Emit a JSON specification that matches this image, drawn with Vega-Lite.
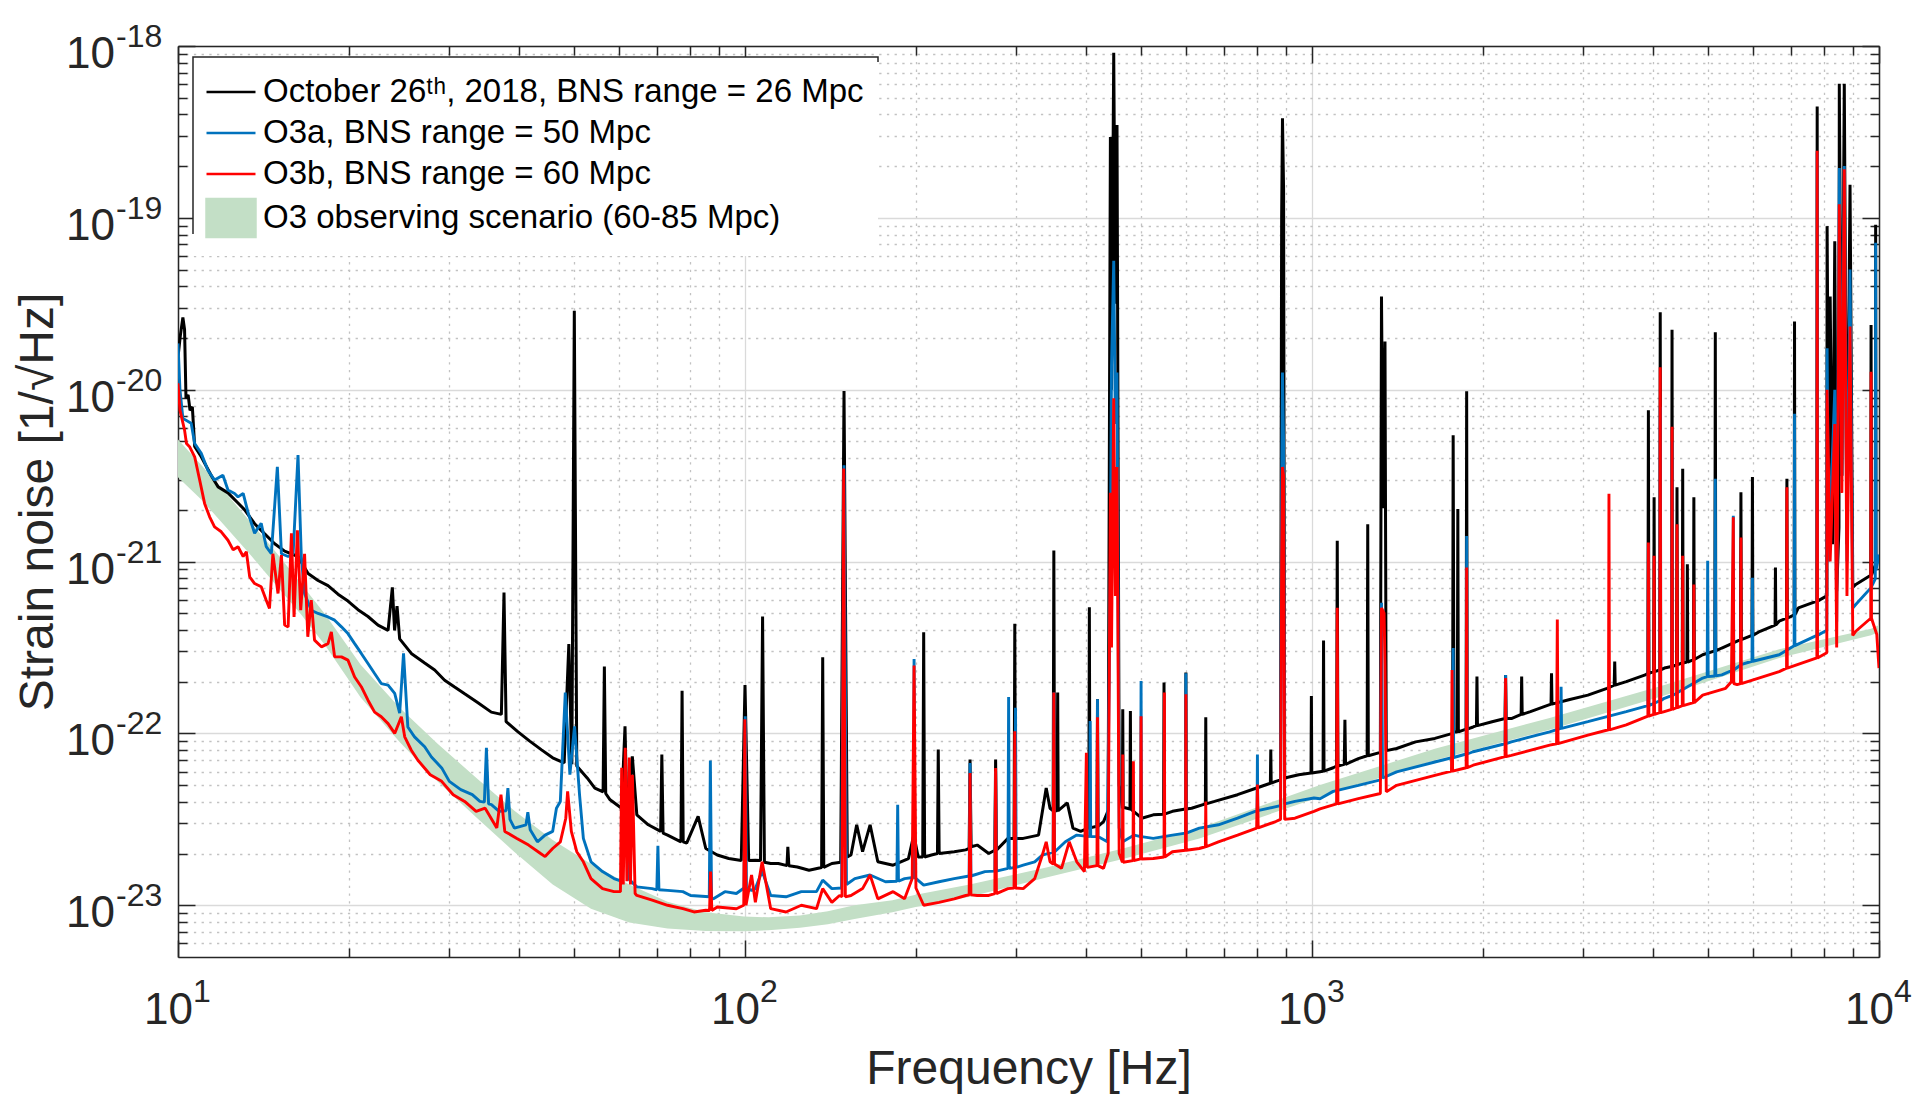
{
  "$schema": "https://vega.github.io/schema/vega-lite/v6.json",
  "description": "Strain noise spectra: October 26th 2018, O3a, O3b and the O3 observing scenario band.",
  "width": 1701,
  "height": 911,
  "autosize": {"type": "none"},
  "padding": {"left": 178, "top": 46, "right": 42, "bottom": 151},
  "background": "white",
  "config": {
    "font": "Liberation Sans",
    "view": {"stroke": null},
    "axis": {
      "labelFont": "Liberation Sans",
      "titleFont": "Liberation Sans",
      "labelColor": "#262626",
      "titleColor": "#262626",
      "domainColor": "#262626",
      "tickColor": "#262626",
      "titleFontWeight": "normal",
      "domainWidth": 1.5,
      "tickWidth": 1.5
    }
  },
  "datasets": {
    "xlab": [
      {"v":10,"e":"1"},{"v":100,"e":"2"},{"v":1000,"e":"3"},{"v":10000,"e":"4"}
    ],
    "ylab": [
      {"v":1e-23,"e":"-23"},{"v":1e-22,"e":"-22"},{"v":1e-21,"e":"-21"},{"v":1e-20,"e":"-20"},{"v":1e-19,"e":"-19"},{"v":1e-18,"e":"-18"}
    ],
    "oct": [
      {"f":10,"h":1.55e-20},{"f":10.1,"h":2.09e-20},{"f":10.2,"h":2.63e-20},{"f":10.27,"h":2.24e-20},{"f":10.33,"h":8.91e-21},{"f":10.42,"h":9.33e-21},{"f":10.5,"h":7.59e-21},{"f":10.6,"h":7.94e-21},{"f":10.7,"h":4.68e-21},{"f":10.99,"h":4.07e-21},{"f":11.45,"h":3.16e-21},{"f":11.77,"h":2.72e-21},{"f":12.25,"h":2.51e-21},{"f":12.76,"h":2.19e-21},{"f":13.11,"h":2.0e-21},{"f":13.65,"h":1.66e-21},{"f":14.22,"h":1.45e-21},{"f":14.81,"h":1.27e-21},{"f":15.42,"h":1.15e-21},{"f":16.28,"h":1.07e-21},{"f":16.96,"h":8.51e-22},{"f":17.66,"h":7.76e-22},{"f":18.39,"h":7.24e-22},{"f":19.15,"h":6.46e-22},{"f":19.94,"h":5.89e-22},{"f":20.77,"h":5.25e-22},{"f":21.63,"h":4.79e-22},{"f":22.53,"h":4.27e-22},{"f":23.47,"h":3.98e-22},{"f":23.88,"h":7.08e-22},{"f":24.1,"h":3.98e-22},{"f":24.34,"h":5.5e-22},{"f":24.6,"h":3.55e-22},{"f":25.79,"h":2.92e-22},{"f":27.23,"h":2.57e-22},{"f":28.36,"h":2.34e-22},{"f":29.53,"h":2.04e-22},{"f":30.75,"h":1.86e-22},{"f":32.03,"h":1.7e-22},{"f":33.81,"h":1.51e-22},{"f":35.69,"h":1.33e-22},{"f":37.18,"h":1.29e-22},{"f":37.58,"h":6.61e-22},{"f":37.9,"h":1.17e-22},{"f":39.78,"h":1.02e-22},{"f":41.72,"h":9.02e-23},{"f":43.71,"h":8.05e-23},{"f":45.79,"h":7.21e-23},{"f":47.98,"h":6.73e-23},{"f":48.9,"h":3.31e-22},{"f":49.5,"h":6.61e-23},{"f":50,"h":2.88e-20},{"f":50.5,"h":6.46e-23},{"f":52.68,"h":5.51e-23},{"f":54.35,"h":4.81e-23},{"f":56.2,"h":4.57e-23},{"f":56.49,"h":2.45e-22},{"f":56.8,"h":4.47e-23},{"f":57.82,"h":4.11e-23},{"f":60.58,"h":3.67e-23},{"f":61.43,"h":1.1e-22},{"f":61.9,"h":3.55e-23},{"f":63.28,"h":7.36e-23},{"f":64.45,"h":3.36e-23},{"f":67.52,"h":2.94e-23},{"f":71,"h":2.69e-23},{"f":71.34,"h":7.53e-23},{"f":71.7,"h":2.63e-23},{"f":73.03,"h":2.56e-23},{"f":77.1,"h":2.34e-23},{"f":77.45,"h":1.77e-22},{"f":77.8,"h":2.34e-23},{"f":78.91,"h":2.3e-23},{"f":82.67,"h":3.29e-23},{"f":85.28,"h":2.14e-23},{"f":89.35,"h":1.96e-23},{"f":93.62,"h":1.87e-23},{"f":98.5,"h":1.82e-23},{"f":100,"h":1.91e-22},{"f":101.5,"h":1.82e-23},{"f":104.3,"h":1.83e-23},{"f":106.5,"h":1.82e-23},{"f":107.4,"h":4.79e-22},{"f":108.2,"h":1.78e-23},{"f":111,"h":1.75e-23},{"f":114.5,"h":1.75e-23},{"f":118.6,"h":1.7e-23},{"f":119,"h":2.19e-23},{"f":119.5,"h":1.7e-23},{"f":123.7,"h":1.67e-23},{"f":129.7,"h":1.6e-23},{"f":136.5,"h":1.66e-23},{"f":137.1,"h":2.77e-22},{"f":137.7,"h":1.66e-23},{"f":142.3,"h":1.75e-23},{"f":147.5,"h":1.78e-23},{"f":149.5,"h":9.82e-21},{"f":151.5,"h":1.91e-23},{"f":153.8,"h":1.96e-23},{"f":157.4,"h":2.94e-23},{"f":161.2,"h":2.05e-23},{"f":166.2,"h":2.94e-23},{"f":171.5,"h":1.79e-23},{"f":182.5,"h":1.71e-23},{"f":194.2,"h":1.87e-23},{"f":198.5,"h":2.57e-23},{"f":202,"h":1.91e-23},{"f":205.8,"h":1.91e-23},{"f":206.6,"h":3.88e-22},{"f":207.4,"h":1.91e-23},{"f":213.2,"h":1.96e-23},{"f":218.5,"h":2.0e-23},{"f":219.2,"h":8.05e-23},{"f":220,"h":2.0e-23},{"f":233.9,"h":2.05e-23},{"f":245.1,"h":2.1e-23},{"f":248.5,"h":2.14e-23},{"f":249.4,"h":7.05e-23},{"f":250.5,"h":2.19e-23},{"f":256.8,"h":2.24e-23},{"f":269.1,"h":2.0e-23},{"f":275.8,"h":2.09e-23},{"f":276.7,"h":7.05e-23},{"f":277.6,"h":2.09e-23},{"f":290.9,"h":2.45e-23},{"f":298.2,"h":2.45e-23},{"f":299.1,"h":4.34e-22},{"f":300,"h":2.45e-23},{"f":309.5,"h":2.45e-23},{"f":329.4,"h":2.56e-23},{"f":339.8,"h":4.81e-23},{"f":345.1,"h":3.67e-23},{"f":349.5,"h":3.55e-23},{"f":350.5,"h":1.16e-21},{"f":351.5,"h":3.55e-23},{"f":355.2,"h":3.55e-23},{"f":356,"h":1.73e-22},{"f":356.8,"h":3.55e-23},{"f":370.2,"h":3.94e-23},{"f":378.8,"h":2.81e-23},{"f":390.8,"h":2.69e-23},{"f":404,"h":2.82e-23},{"f":404.9,"h":5.43e-22},{"f":405.8,"h":2.82e-23},{"f":417.6,"h":2.88e-23},{"f":418.5,"h":1.58e-22},{"f":419.4,"h":2.88e-23},{"f":428.9,"h":3.07e-23},{"f":437,"h":3.55e-23},{"f":441,"h":2.95e-19},{"f":443,"h":1e-20},{"f":447,"h":9.12e-19},{"f":450,"h":3.16e-20},{"f":453,"h":3.47e-19},{"f":457,"h":5.01e-23},{"f":463,"h":3.67e-23},{"f":463.7,"h":1.38e-22},{"f":464.5,"h":3.72e-23},{"f":477.5,"h":3.63e-23},{"f":478.3,"h":1.35e-22},{"f":479.1,"h":3.63e-23},{"f":501,"h":3.21e-23},{"f":524.9,"h":3.36e-23},{"f":547.4,"h":3.39e-23},{"f":548.3,"h":1.98e-22},{"f":549.2,"h":3.39e-23},{"f":567.4,"h":3.52e-23},{"f":598.2,"h":3.63e-23},{"f":599.2,"h":2.26e-22},{"f":600.2,"h":3.63e-23},{"f":613.3,"h":3.67e-23},{"f":648.6,"h":3.89e-23},{"f":649.6,"h":1.24e-22},{"f":650.6,"h":3.89e-23},{"f":673.2,"h":4.02e-23},{"f":739.1,"h":4.4e-23},{"f":798.7,"h":4.81e-23},{"f":844.5,"h":5.13e-23},{"f":845.9,"h":8.05e-23},{"f":847.3,"h":5.13e-23},{"f":863.2,"h":5.26e-23},{"f":880,"h":5.37e-23},{"f":884,"h":1e-19},{"f":887,"h":3.8e-19},{"f":891,"h":1.48e-19},{"f":895,"h":5.5e-23},{"f":947.6,"h":5.75e-23},{"f":996,"h":5.89e-23},{"f":997.5,"h":1.65e-22},{"f":999,"h":5.89e-23},{"f":1046,"h":6.03e-23},{"f":1048,"h":3.47e-22},{"f":1050,"h":6.03e-23},{"f":1090,"h":6.31e-23},{"f":1105,"h":6.46e-23},{"f":1108,"h":1.32e-21},{"f":1111,"h":6.46e-23},{"f":1140,"h":6.61e-23},{"f":1143,"h":1.2e-22},{"f":1146,"h":6.61e-23},{"f":1207,"h":7.14e-23},{"f":1251,"h":7.41e-23},{"f":1254,"h":1.65e-21},{"f":1257,"h":7.41e-23},{"f":1320,"h":7.76e-23},{"f":1326,"h":3.49e-20},{"f":1335,"h":2.04e-21},{"f":1345,"h":1.91e-20},{"f":1352,"h":7.94e-23},{"f":1410,"h":8.17e-23},{"f":1523,"h":8.93e-23},{"f":1647,"h":9.35e-23},{"f":1770,"h":1e-22},{"f":1774,"h":5.43e-21},{"f":1780,"h":1.02e-22},{"f":1804,"h":1.02e-22},{"f":1808,"h":2.02e-21},{"f":1812,"h":1.02e-22},{"f":1870,"h":1.06e-22},{"f":1874,"h":9.79e-21},{"f":1878,"h":1.06e-22},{"f":1924,"h":1.09e-22},{"f":1950,"h":1.11e-22},{"f":1954,"h":2.14e-22},{"f":1958,"h":1.11e-22},{"f":2078,"h":1.17e-22},{"f":2190,"h":1.22e-22},{"f":2195,"h":2.19e-22},{"f":2200,"h":1.22e-22},{"f":2247,"h":1.22e-22},{"f":2338,"h":1.29e-22},{"f":2343,"h":2.14e-22},{"f":2348,"h":1.29e-22},{"f":2428,"h":1.34e-22},{"f":2625,"h":1.47e-22},{"f":2640,"h":1.48e-22},{"f":2645,"h":2.24e-22},{"f":2650,"h":1.48e-22},{"f":2837,"h":1.57e-22},{"f":3066,"h":1.67e-22},{"f":3314,"h":1.83e-22},{"f":3412,"h":1.91e-22},{"f":3419,"h":2.62e-22},{"f":3426,"h":1.91e-22},{"f":3583,"h":2.0e-22},{"f":3871,"h":2.19e-22},{"f":3912,"h":2.24e-22},{"f":3920,"h":7.59e-21},{"f":3928,"h":2.24e-22},{"f":4005,"h":2.29e-22},{"f":4012,"h":2.37e-21},{"f":4019,"h":2.29e-22},{"f":4105,"h":2.34e-22},{"f":4113,"h":2.82e-20},{"f":4121,"h":2.34e-22},{"f":4183,"h":2.4e-22},{"f":4307,"h":2.45e-22},{"f":4315,"h":2.23e-20},{"f":4323,"h":2.45e-22},{"f":4395,"h":2.51e-22},{"f":4403,"h":2.71e-21},{"f":4411,"h":2.51e-22},{"f":4498,"h":2.57e-22},{"f":4506,"h":3.47e-21},{"f":4514,"h":2.57e-22},{"f":4584,"h":2.6e-22},{"f":4592,"h":9.64e-22},{"f":4600,"h":2.6e-22},{"f":4707,"h":2.69e-22},{"f":4715,"h":2.37e-21},{"f":4723,"h":2.69e-22},{"f":4887,"h":2.87e-22},{"f":5134,"h":3.02e-22},{"f":5144,"h":2.16e-20},{"f":5154,"h":3.02e-22},{"f":5282,"h":3.14e-22},{"f":5698,"h":3.51e-22},{"f":5708,"h":2.53e-21},{"f":5718,"h":3.51e-22},{"f":5970,"h":3.72e-22},{"f":5981,"h":3.1e-21},{"f":5992,"h":3.72e-22},{"f":6170,"h":3.93e-22},{"f":6557,"h":4.27e-22},{"f":6567,"h":9.23e-22},{"f":6577,"h":4.27e-22},{"f":6668,"h":4.5e-22},{"f":6870,"h":4.68e-22},{"f":6880,"h":3.03e-21},{"f":6890,"h":4.68e-22},{"f":7085,"h":4.9e-22},{"f":7096,"h":2.49e-20},{"f":7107,"h":4.9e-22},{"f":7208,"h":5.38e-22},{"f":7770,"h":5.89e-22},{"f":7780,"h":4.45e-19},{"f":7790,"h":5.89e-22},{"f":8090,"h":6.31e-22},{"f":8100,"h":8.95e-20},{"f":8150,"h":3.16e-21},{"f":8201,"h":3.49e-20},{"f":8280,"h":1.26e-21},{"f":8356,"h":7.31e-20},{"f":8421,"h":6.73e-22},{"f":8500,"h":1.58e-21},{"f":8511,"h":6.03e-19},{"f":8600,"h":3.16e-21},{"f":8685,"h":6.03e-19},{"f":8780,"h":1.26e-21},{"f":8890,"h":1.56e-19},{"f":8990,"h":7.08e-22},{"f":9100,"h":7.36e-22},{"f":9670,"h":8.32e-22},{"f":9683,"h":2.38e-20},{"f":9700,"h":8.32e-22},{"f":9850,"h":9.55e-22},{"f":9865,"h":9.12e-20},{"f":9880,"h":1e-21},{"f":9950,"h":1.02e-21},{"f":10000,"h":1.05e-21}
    ],
    "o3a": [
      {"f":10,"h":1.86e-20},{"f":10.08,"h":1e-20},{"f":10.2,"h":6.81e-21},{"f":10.55,"h":6.37e-21},{"f":10.7,"h":4.86e-21},{"f":10.99,"h":4.26e-21},{"f":11.29,"h":3.4e-21},{"f":11.6,"h":2.98e-21},{"f":12,"h":3.18e-21},{"f":12.25,"h":2.61e-21},{"f":12.58,"h":2.49e-21},{"f":12.76,"h":2.38e-21},{"f":13.03,"h":2.49e-21},{"f":13.3,"h":1.91e-21},{"f":13.65,"h":1.46e-21},{"f":14.02,"h":1.67e-21},{"f":14.31,"h":1.22e-21},{"f":14.61,"h":1.11e-21},{"f":14.97,"h":3.56e-21},{"f":15.22,"h":1.11e-21},{"f":15.64,"h":1.07e-21},{"f":15.96,"h":1.11e-21},{"f":16.28,"h":4.16e-21},{"f":16.5,"h":1.07e-21},{"f":16.72,"h":6.52e-22},{"f":17.18,"h":5.21e-22},{"f":17.66,"h":4.99e-22},{"f":18.39,"h":4.76e-22},{"f":18.89,"h":4.56e-22},{"f":19.42,"h":4.17e-22},{"f":19.94,"h":3.81e-22},{"f":20.49,"h":3.33e-22},{"f":21.05,"h":2.92e-22},{"f":21.63,"h":2.55e-22},{"f":22.22,"h":2.23e-22},{"f":22.83,"h":1.95e-22},{"f":23.47,"h":1.91e-22},{"f":24.11,"h":1.71e-22},{"f":24.6,"h":1.31e-22},{"f":24.99,"h":2.92e-22},{"f":25.43,"h":1.09e-22},{"f":26.13,"h":9.55e-23},{"f":27.23,"h":8.36e-23},{"f":27.99,"h":7.29e-23},{"f":29.18,"h":6.3e-23},{"f":30.1,"h":5.26e-23},{"f":31.53,"h":4.71e-23},{"f":33.04,"h":4.4e-23},{"f":34.08,"h":4.02e-23},{"f":34.7,"h":3.98e-23},{"f":34.99,"h":8.24e-23},{"f":35.3,"h":3.89e-23},{"f":35.71,"h":3.85e-23},{"f":36.84,"h":3.52e-23},{"f":37.9,"h":3.55e-23},{"f":38.18,"h":4.81e-23},{"f":38.5,"h":3.16e-23},{"f":39.2,"h":2.81e-23},{"f":41.09,"h":2.94e-23},{"f":41.4,"h":3.48e-23},{"f":41.8,"h":2.75e-23},{"f":43.04,"h":2.34e-23},{"f":44.4,"h":2.56e-23},{"f":45.79,"h":2.69e-23},{"f":46.5,"h":3.67e-23},{"f":47.24,"h":4.02e-23},{"f":48.2,"h":1.73e-22},{"f":49.11,"h":5.75e-23},{"f":50.04,"h":1.1e-22},{"f":51.07,"h":4.4e-23},{"f":51.87,"h":2.45e-23},{"f":53.5,"h":1.79e-23},{"f":56.07,"h":1.57e-23},{"f":58.74,"h":1.43e-23},{"f":60.5,"h":1.38e-23},{"f":61.5,"h":3.98e-23},{"f":62.5,"h":1.41e-23},{"f":64.45,"h":1.28e-23},{"f":68.6,"h":1.25e-23},{"f":69.9,"h":1.23e-23},{"f":70.21,"h":2.22e-23},{"f":70.5,"h":1.23e-23},{"f":73.03,"h":1.22e-23},{"f":77.7,"h":1.2e-23},{"f":80.15,"h":1.14e-23},{"f":86.5,"h":1.12e-23},{"f":86.88,"h":6.95e-23},{"f":87.3,"h":1.1e-23},{"f":87.97,"h":1.09e-23},{"f":92.17,"h":1.2e-23},{"f":96.56,"h":1.17e-23},{"f":99.6,"h":1.26e-23},{"f":100.1,"h":1.26e-22},{"f":100.6,"h":1.26e-23},{"f":102.7,"h":1.22e-23},{"f":104.3,"h":1.25e-23},{"f":107.2,"h":1.58e-23},{"f":111,"h":1.14e-23},{"f":118.1,"h":1.12e-23},{"f":125.7,"h":1.2e-23},{"f":133.7,"h":1.2e-23},{"f":137.1,"h":1.4e-23},{"f":142.3,"h":1.25e-23},{"f":148,"h":1.26e-23},{"f":149.5,"h":3.63e-21},{"f":151,"h":1.32e-23},{"f":156.2,"h":1.43e-23},{"f":166.2,"h":1.5e-23},{"f":176.9,"h":1.37e-23},{"f":185.3,"h":1.38e-23},{"f":185.9,"h":3.85e-23},{"f":186.5,"h":1.38e-23},{"f":191.2,"h":1.43e-23},{"f":198,"h":1.45e-23},{"f":198.7,"h":2.71e-22},{"f":199.4,"h":1.45e-23},{"f":206.6,"h":1.31e-23},{"f":219.9,"h":1.37e-23},{"f":233.9,"h":1.43e-23},{"f":248.5,"h":1.48e-23},{"f":249.4,"h":6.73e-23},{"f":250.3,"h":1.48e-23},{"f":265,"h":1.57e-23},{"f":275.8,"h":1.58e-23},{"f":276.7,"h":6.03e-23},{"f":277.6,"h":1.58e-23},{"f":290.9,"h":1.64e-23},{"f":291.7,"h":1.63e-22},{"f":292.5,"h":1.64e-23},{"f":299.2,"h":1.66e-23},{"f":300,"h":1.41e-22},{"f":300.8,"h":1.66e-23},{"f":309.5,"h":1.71e-23},{"f":324.3,"h":1.79e-23},{"f":334.5,"h":1.96e-23},{"f":349.5,"h":2.04e-23},{"f":350.5,"h":1.73e-22},{"f":351.5,"h":2.04e-23},{"f":367.3,"h":2.34e-23},{"f":384.7,"h":2.56e-23},{"f":405.3,"h":2.51e-23},{"f":406.2,"h":1.18e-22},{"f":407.1,"h":2.51e-23},{"f":417.6,"h":2.51e-23},{"f":418.5,"h":1.58e-22},{"f":419.4,"h":2.51e-23},{"f":435.6,"h":2.34e-23},{"f":441,"h":1e-21},{"f":443,"h":1.35e-20},{"f":447,"h":5.62e-20},{"f":450,"h":6.31e-21},{"f":453,"h":1.26e-20},{"f":457,"h":2.82e-23},{"f":463.7,"h":2.34e-23},{"f":485.8,"h":2.56e-23},{"f":498.6,"h":2.51e-23},{"f":499.5,"h":2.02e-22},{"f":500.4,"h":2.51e-23},{"f":524.9,"h":2.45e-23},{"f":567.4,"h":2.56e-23},{"f":598.2,"h":2.63e-23},{"f":599.2,"h":2.24e-22},{"f":600.2,"h":2.63e-23},{"f":632.7,"h":2.81e-23},{"f":683.8,"h":2.94e-23},{"f":739.1,"h":3.21e-23},{"f":800.1,"h":3.55e-23},{"f":801.2,"h":7.53e-23},{"f":802.3,"h":3.55e-23},{"f":880,"h":3.8e-23},{"f":884,"h":2.51e-21},{"f":887,"h":1.26e-20},{"f":891,"h":5.01e-21},{"f":895,"h":3.89e-23},{"f":933.1,"h":4.02e-23},{"f":1008,"h":4.21e-23},{"f":1033,"h":4.17e-23},{"f":1090,"h":4.6e-23},{"f":1207,"h":4.99e-23},{"f":1320,"h":5.37e-23},{"f":1326,"h":5.75e-22},{"f":1332,"h":5.5e-23},{"f":1410,"h":5.97e-23},{"f":1647,"h":6.82e-23},{"f":1770,"h":7.24e-23},{"f":1774,"h":3.14e-22},{"f":1778,"h":7.24e-23},{"f":1870,"h":7.59e-23},{"f":1874,"h":1.41e-21},{"f":1878,"h":7.59e-23},{"f":1924,"h":7.82e-23},{"f":2190,"h":8.71e-23},{"f":2195,"h":2.19e-22},{"f":2200,"h":8.71e-23},{"f":2247,"h":8.93e-23},{"f":2625,"h":1.02e-22},{"f":2745,"h":1.07e-22},{"f":2750,"h":1.87e-22},{"f":2755,"h":1.07e-22},{"f":3066,"h":1.17e-22},{"f":3583,"h":1.34e-22},{"f":3912,"h":1.45e-22},{"f":3920,"h":1.26e-21},{"f":3928,"h":1.45e-22},{"f":4105,"h":1.55e-22},{"f":4113,"h":7.94e-21},{"f":4121,"h":1.55e-22},{"f":4183,"h":1.6e-22},{"f":4307,"h":1.66e-22},{"f":4315,"h":5.01e-21},{"f":4323,"h":1.66e-22},{"f":4887,"h":2.1e-22},{"f":4977,"h":2.14e-22},{"f":4987,"h":1.01e-21},{"f":4997,"h":2.14e-22},{"f":5134,"h":2.16e-22},{"f":5144,"h":3.03e-21},{"f":5154,"h":2.16e-22},{"f":5282,"h":2.19e-22},{"f":5524,"h":2.34e-22},{"f":5534,"h":1.85e-21},{"f":5544,"h":2.34e-22},{"f":5708,"h":2.51e-22},{"f":5970,"h":2.63e-22},{"f":5981,"h":8.05e-22},{"f":5992,"h":2.63e-22},{"f":6668,"h":2.87e-22},{"f":7085,"h":3.24e-22},{"f":7096,"h":7.24e-21},{"f":7107,"h":3.24e-22},{"f":7770,"h":3.72e-22},{"f":7780,"h":2.4e-19},{"f":7790,"h":3.72e-22},{"f":8090,"h":3.98e-22},{"f":8100,"h":1.74e-20},{"f":8150,"h":1e-21},{"f":8356,"h":1e-20},{"f":8421,"h":4.47e-22},{"f":8511,"h":1.95e-19},{"f":8600,"h":3.16e-21},{"f":8685,"h":2e-19},{"f":8780,"h":1e-21},{"f":8890,"h":5.01e-20},{"f":8990,"h":5.37e-22},{"f":9100,"h":5.62e-22},{"f":9683,"h":7.05e-22},{"f":9850,"h":7.94e-22},{"f":9865,"h":7.16e-20},{"f":9880,"h":8.91e-22},{"f":10000,"h":1.1e-21}
    ],
    "o3b": [
      {"f":10,"h":1.09e-20},{"f":10.08,"h":7.6e-21},{"f":10.27,"h":5.82e-21},{"f":10.35,"h":4.86e-21},{"f":10.48,"h":4.66e-21},{"f":10.7,"h":4.07e-21},{"f":10.92,"h":2.98e-21},{"f":11.14,"h":2.18e-21},{"f":11.37,"h":1.82e-21},{"f":11.6,"h":1.59e-21},{"f":11.92,"h":1.49e-21},{"f":12.25,"h":1.33e-21},{"f":12.51,"h":1.17e-21},{"f":12.76,"h":1.22e-21},{"f":13.03,"h":1.07e-21},{"f":13.2,"h":1.14e-21},{"f":13.38,"h":8.15e-22},{"f":13.65,"h":7.45e-22},{"f":14.02,"h":7.13e-22},{"f":14.31,"h":5.96e-22},{"f":14.5,"h":5.33e-22},{"f":14.7,"h":1.11e-21},{"f":15.01,"h":6.52e-22},{"f":15.22,"h":1.09e-21},{"f":15.42,"h":4.27e-22},{"f":15.64,"h":4.17e-22},{"f":15.85,"h":1.46e-21},{"f":16.02,"h":4.76e-22},{"f":16.24,"h":1.52e-21},{"f":16.46,"h":5.21e-22},{"f":16.72,"h":1.11e-21},{"f":16.94,"h":3.65e-22},{"f":17.18,"h":5.96e-22},{"f":17.41,"h":3.49e-22},{"f":17.9,"h":3.19e-22},{"f":18.39,"h":3.33e-22},{"f":18.64,"h":3.9e-22},{"f":18.89,"h":2.79e-22},{"f":19.42,"h":2.79e-22},{"f":19.94,"h":2.67e-22},{"f":20.49,"h":2.13e-22},{"f":21.05,"h":1.87e-22},{"f":21.63,"h":1.56e-22},{"f":22.22,"h":1.33e-22},{"f":22.83,"h":1.25e-22},{"f":23.47,"h":1.14e-22},{"f":24.11,"h":1e-22},{"f":24.77,"h":1.25e-22},{"f":25.11,"h":9.55e-23},{"f":25.79,"h":7.98e-23},{"f":26.49,"h":6.98e-23},{"f":27.85,"h":5.75e-23},{"f":29.18,"h":5.26e-23},{"f":30.57,"h":4.4e-23},{"f":32.03,"h":4.02e-23},{"f":33.56,"h":3.52e-23},{"f":34.81,"h":3.67e-23},{"f":36.5,"h":2.82e-23},{"f":37.12,"h":4.4e-23},{"f":37.7,"h":2.69e-23},{"f":39.6,"h":2.45e-23},{"f":41.53,"h":2.24e-23},{"f":43.6,"h":2e-23},{"f":44.4,"h":1.92e-23},{"f":45.79,"h":2.14e-23},{"f":47.24,"h":2.34e-23},{"f":48.3,"h":3.21e-23},{"f":48.66,"h":4.6e-23},{"f":49.4,"h":2.69e-23},{"f":50.5,"h":2.05e-23},{"f":51.87,"h":1.79e-23},{"f":53.5,"h":1.43e-23},{"f":56.07,"h":1.25e-23},{"f":58.74,"h":1.2e-23},{"f":60.3,"h":1.2e-23},{"f":60.6,"h":6.31e-23},{"f":61,"h":1.32e-23},{"f":61.5,"h":8.24e-23},{"f":61.9,"h":1.38e-23},{"f":62.5,"h":7.24e-23},{"f":62.8,"h":1.32e-23},{"f":63.3,"h":5.75e-23},{"f":64,"h":1.17e-23},{"f":64.45,"h":1.14e-23},{"f":68.6,"h":1.07e-23},{"f":73.03,"h":1e-23},{"f":77.7,"h":9.55e-24},{"f":81.3,"h":9.14e-24},{"f":85.28,"h":9.35e-24},{"f":86.6,"h":9.33e-24},{"f":86.96,"h":1.57e-23},{"f":87.4,"h":9.33e-24},{"f":89.35,"h":9.77e-24},{"f":96.56,"h":9.55e-24},{"f":99.5,"h":1e-23},{"f":99.94,"h":1.21e-22},{"f":100.4,"h":1e-23},{"f":102.7,"h":1.5e-23},{"f":104.3,"h":1.04e-23},{"f":107.2,"h":1.79e-23},{"f":111,"h":9.55e-24},{"f":118.1,"h":9.14e-24},{"f":125.7,"h":1e-23},{"f":133.7,"h":9.55e-24},{"f":137.1,"h":1.25e-23},{"f":142.3,"h":1.04e-23},{"f":146.8,"h":1.14e-23},{"f":148.3,"h":1.12e-23},{"f":149.3,"h":3.48e-21},{"f":150.3,"h":1.12e-23},{"f":153.8,"h":1.14e-23},{"f":161.2,"h":1.25e-23},{"f":166.2,"h":1.5e-23},{"f":171.5,"h":1.09e-23},{"f":182.5,"h":1.2e-23},{"f":191.2,"h":1.09e-23},{"f":197.2,"h":1.43e-23},{"f":198.7,"h":2.48e-22},{"f":200.2,"h":1.26e-23},{"f":206.6,"h":1e-23},{"f":219.9,"h":1.04e-23},{"f":233.9,"h":1.09e-23},{"f":245.1,"h":1.14e-23},{"f":248.5,"h":1.15e-23},{"f":249.4,"h":5.89e-23},{"f":250.3,"h":1.15e-23},{"f":256.8,"h":1.14e-23},{"f":269.1,"h":1.14e-23},{"f":275.8,"h":1.17e-23},{"f":276.7,"h":6.3e-23},{"f":277.6,"h":1.17e-23},{"f":290.9,"h":1.25e-23},{"f":298.2,"h":1.26e-23},{"f":299.1,"h":1.03e-22},{"f":300,"h":1.26e-23},{"f":309.5,"h":1.25e-23},{"f":324.3,"h":1.43e-23},{"f":334.5,"h":1.96e-23},{"f":339.8,"h":2.34e-23},{"f":345.1,"h":1.79e-23},{"f":349.5,"h":1.74e-23},{"f":350.5,"h":1.73e-22},{"f":351.5,"h":1.74e-23},{"f":361.6,"h":1.64e-23},{"f":373.1,"h":2.34e-23},{"f":384.7,"h":1.79e-23},{"f":396.8,"h":1.57e-23},{"f":400,"h":7.71e-23},{"f":401.5,"h":1.66e-23},{"f":417.6,"h":1.7e-23},{"f":418.5,"h":1.24e-22},{"f":419.4,"h":1.7e-23},{"f":428.9,"h":1.64e-23},{"f":437,"h":2e-23},{"f":441,"h":2.51e-21},{"f":443,"h":3.16e-22},{"f":447,"h":8.91e-21},{"f":450,"h":6.31e-22},{"f":453,"h":3.55e-21},{"f":457,"h":2e-23},{"f":463,"h":1.78e-23},{"f":463.7,"h":7.53e-23},{"f":464.5,"h":1.78e-23},{"f":483.4,"h":1.82e-23},{"f":484.2,"h":6.89e-23},{"f":485,"h":1.82e-23},{"f":498.6,"h":1.86e-23},{"f":499.5,"h":1.26e-22},{"f":500.4,"h":1.86e-23},{"f":524.9,"h":1.87e-23},{"f":548.3,"h":1.91e-23},{"f":549.1,"h":1.73e-22},{"f":549.9,"h":1.91e-23},{"f":567.4,"h":2.05e-23},{"f":598.2,"h":2.09e-23},{"f":599.2,"h":1.69e-22},{"f":600.2,"h":2.09e-23},{"f":632.7,"h":2.14e-23},{"f":648.6,"h":2.19e-23},{"f":649.6,"h":4.02e-23},{"f":650.6,"h":2.19e-23},{"f":683.8,"h":2.34e-23},{"f":739.1,"h":2.56e-23},{"f":798.7,"h":2.81e-23},{"f":801.2,"h":5.04e-23},{"f":803.7,"h":2.82e-23},{"f":863.2,"h":3.07e-23},{"f":880,"h":3.16e-23},{"f":884,"h":1e-21},{"f":887,"h":3.55e-21},{"f":891,"h":3.16e-21},{"f":895,"h":3.16e-23},{"f":933.1,"h":3.21e-23},{"f":1008,"h":3.52e-23},{"f":1033,"h":3.64e-23},{"f":1105,"h":3.89e-23},{"f":1108,"h":5.38e-22},{"f":1111,"h":3.89e-23},{"f":1207,"h":4.17e-23},{"f":1320,"h":4.47e-23},{"f":1326,"h":5.37e-22},{"f":1340,"h":5.01e-22},{"f":1345,"h":2.51e-22},{"f":1352,"h":4.57e-23},{"f":1410,"h":4.99e-23},{"f":1647,"h":5.7e-23},{"f":1762,"h":6.03e-23},{"f":1766,"h":2.34e-22},{"f":1770,"h":6.03e-23},{"f":1870,"h":6.31e-23},{"f":1874,"h":9.23e-22},{"f":1878,"h":6.31e-23},{"f":1924,"h":6.53e-23},{"f":2190,"h":7.33e-23},{"f":2195,"h":2.1e-22},{"f":2200,"h":7.33e-23},{"f":2247,"h":7.46e-23},{"f":2625,"h":8.55e-23},{"f":2700,"h":8.71e-23},{"f":2708,"h":4.6e-22},{"f":2716,"h":8.71e-23},{"f":3066,"h":9.77e-23},{"f":3333,"h":1.05e-22},{"f":3340,"h":2.48e-21},{"f":3347,"h":1.05e-22},{"f":3583,"h":1.12e-22},{"f":3912,"h":1.26e-22},{"f":3920,"h":1.29e-21},{"f":3928,"h":1.26e-22},{"f":4005,"h":1.29e-22},{"f":4012,"h":1.08e-21},{"f":4019,"h":1.29e-22},{"f":4105,"h":1.32e-22},{"f":4113,"h":1.35e-20},{"f":4121,"h":1.32e-22},{"f":4183,"h":1.34e-22},{"f":4307,"h":1.38e-22},{"f":4315,"h":6.08e-21},{"f":4323,"h":1.38e-22},{"f":4395,"h":1.41e-22},{"f":4403,"h":1.65e-21},{"f":4411,"h":1.41e-22},{"f":4498,"h":1.45e-22},{"f":4506,"h":1.08e-21},{"f":4514,"h":1.45e-22},{"f":4707,"h":1.51e-22},{"f":4715,"h":7.36e-22},{"f":4723,"h":1.51e-22},{"f":4887,"h":1.67e-22},{"f":5364,"h":1.83e-22},{"f":5491,"h":2e-22},{"f":5534,"h":1.81e-21},{"f":5544,"h":1.95e-22},{"f":5620,"h":1.92e-22},{"f":5698,"h":1.95e-22},{"f":5708,"h":1.38e-21},{"f":5718,"h":1.95e-22},{"f":6668,"h":2.29e-22},{"f":6870,"h":2.4e-22},{"f":6880,"h":2.71e-21},{"f":6890,"h":2.4e-22},{"f":7770,"h":2.75e-22},{"f":7780,"h":2.46e-19},{"f":7790,"h":2.75e-22},{"f":8090,"h":2.95e-22},{"f":8100,"h":1e-20},{"f":8200,"h":1e-21},{"f":8356,"h":6.31e-21},{"f":8421,"h":3.16e-22},{"f":8511,"h":1.2e-19},{"f":8600,"h":2.51e-21},{"f":8685,"h":1.92e-19},{"f":8780,"h":6.31e-22},{"f":8890,"h":2.33e-20},{"f":8990,"h":3.72e-22},{"f":9100,"h":3.93e-22},{"f":9670,"h":4.68e-22},{"f":9683,"h":1.27e-20},{"f":9700,"h":4.68e-22},{"f":9911,"h":3.76e-22},{"f":10000,"h":2.4e-22}
    ],
    "band": [
      {"f":10,"hi":5.13e-21,"lo":3.09e-21},{"f":11,"hi":3.63e-21,"lo":2.29e-21},{"f":12,"hi":2.63e-21,"lo":1.66e-21},{"f":13.5,"hi":1.66e-21,"lo":1.07e-21},{"f":15,"hi":1.1e-21,"lo":7.08e-22},{"f":16.5,"hi":7.41e-22,"lo":4.9e-22},{"f":18.2,"hi":4.9e-22,"lo":3.24e-22},{"f":21,"hi":2.51e-22,"lo":1.62e-22},{"f":24.6,"hi":1.41e-22,"lo":8.91e-23},{"f":28.7,"hi":8.71e-23,"lo":5.25e-23},{"f":33.6,"hi":5.5e-23,"lo":3.24e-23},{"f":39.2,"hi":3.55e-23,"lo":2.04e-23},{"f":45.8,"hi":2.4e-23,"lo":1.32e-23},{"f":53.5,"hi":1.74e-23,"lo":9.55e-24},{"f":62.5,"hi":1.32e-23,"lo":7.94e-24},{"f":73,"hi":1.05e-23,"lo":7.33e-24},{"f":85.3,"hi":9.12e-24,"lo":7.08e-24},{"f":99.6,"hi":8.61e-24,"lo":7.05e-24},{"f":110,"hi":8.51e-24,"lo":7.16e-24},{"f":125,"hi":8.71e-24,"lo":7.41e-24},{"f":140,"hi":9.23e-24,"lo":7.76e-24},{"f":156,"hi":1e-23,"lo":8.32e-24},{"f":182,"hi":1.07e-23,"lo":9.12e-24},{"f":200,"hi":1.15e-23,"lo":9.77e-24},{"f":249,"hi":1.32e-23,"lo":1.12e-23},{"f":340,"hi":1.66e-23,"lo":1.45e-23},{"f":464,"hi":2.14e-23,"lo":1.86e-23},{"f":633,"hi":2.82e-23,"lo":2.45e-23},{"f":1033,"hi":5.01e-23,"lo":4.27e-23},{"f":1647,"hi":8.13e-23,"lo":6.98e-23},{"f":2625,"hi":1.23e-22,"lo":1.05e-22},{"f":4183,"hi":1.91e-22,"lo":1.66e-22},{"f":6668,"hi":3.09e-22,"lo":2.75e-22},{"f":9683,"hi":4.07e-22,"lo":3.72e-22},{"f":10000,"hi":4.27e-22,"lo":3.89e-22}
    ]
  },
  "resolve": {"axis": {"x": "independent", "y": "independent"}},
  "layer": [
    {
      "data": {"name": "band"},
      "mark": {"type": "area", "opacity": 1, "clip": true},
      "encoding": {
        "x": {
          "field": "f",
          "type": "quantitative",
          "scale": {"type": "log", "domain": [10, 10000], "nice": false},
          "axis": {
            "title": "Frequency [Hz]",
            "titleFontSize": 48,
            "titleY": 126,
            "titleBaseline": "alphabetic",
            "values": [10, 20, 30, 40, 50, 60, 70, 80, 90, 100, 200, 300, 400, 500, 600, 700, 800, 900, 1000, 2000, 3000, 4000, 5000, 6000, 7000, 8000, 9000, 10000],
            "labels": false,
            "tickSize": {"condition": {"test": "abs(log(datum.value)/LN10 - round(log(datum.value)/LN10)) < 0.001", "value": -17}, "value": -9},
            "grid": true,
            "gridWidth": 1.3,
            "gridColor": {"condition": {"test": "abs(log(datum.value)/LN10 - round(log(datum.value)/LN10)) < 0.001", "value": "#dadada"}, "value": "#c2c2c2"},
            "gridDash": {"condition": {"test": "abs(log(datum.value)/LN10 - round(log(datum.value)/LN10)) < 0.001", "value": []}, "value": [2.3, 5.4]}
          }
        },
        "y": {
          "field": "hi",
          "type": "quantitative",
          "scale": {"type": "log", "domain": [5e-24, 1e-18], "nice": false},
          "axis": {
            "title": "Strain noise [1/√Hz]",
            "titleFontSize": 48,
            "titleX": -126,
            "titleBaseline": "alphabetic",
            "values": [6e-24, 7e-24, 8e-24, 9e-24, 1e-23, 2e-23, 3e-23, 4e-23, 5e-23, 6e-23, 7e-23, 8e-23, 9e-23, 1e-22, 2e-22, 3e-22, 4e-22, 5e-22, 6e-22, 7e-22, 8e-22, 9e-22, 1e-21, 2e-21, 3e-21, 4e-21, 5e-21, 6e-21, 7e-21, 8e-21, 9e-21, 1e-20, 2e-20, 3e-20, 4e-20, 5e-20, 6e-20, 7e-20, 8e-20, 9e-20, 1e-19, 2e-19, 3e-19, 4e-19, 5e-19, 6e-19, 7e-19, 8e-19, 9e-19, 1e-18],
            "labels": false,
            "tickSize": {"condition": {"test": "abs(log(datum.value)/LN10 - round(log(datum.value)/LN10)) < 0.001", "value": -17}, "value": -9},
            "grid": true,
            "gridWidth": 1.3,
            "gridColor": {"condition": {"test": "abs(log(datum.value)/LN10 - round(log(datum.value)/LN10)) < 0.001", "value": "#dadada"}, "value": "#c2c2c2"},
            "gridDash": {"condition": {"test": "abs(log(datum.value)/LN10 - round(log(datum.value)/LN10)) < 0.001", "value": []}, "value": [2.3, 5.4]}
          }
        },
        "y2": {"field": "lo"},
        "color": {
          "datum": "O3 observing scenario (60-85 Mpc)",
          "type": "nominal",
          "scale": {
            "domain": ["October 26ᵗʰ, 2018, BNS range = 26 Mpc", "O3a, BNS range = 50 Mpc", "O3b, BNS range = 60 Mpc", "O3 observing scenario (60-85 Mpc)"],
            "range": ["#000000", "#0072bd", "#ff0000", "#c3dfc6"]
          },
          "legend": {
            "orient": "none",
            "legendX": 15,
            "legendY": 11,
            "title": null,
            "labelFont": "Liberation Sans",
            "labelFontSize": 33,
            "labelColor": "#000000",
            "labelLimit": 1000,
            "labelOffset": 11,
            "symbolSize": 1521,
            "symbolStrokeWidth": 2.5,
            "symbolOpacity": 1,
            "symbolOffset": 3,
            "padding": 14,
            "rowPadding": 3,
            "fillColor": "white",
            "strokeColor": "#262626",
            "encode": {
              "legend": {
                "update": {
                  "strokeDash": {"value": [690, 901, 183]},
                  "strokeWidth": {"value": 1.5}
                }
              },
              "symbols": {
                "update": {
                  "shape": {"signal": "datum.value === 'O3 observing scenario (60-85 Mpc)' ? 'M-1.256,-0.974H1.256V0.974H-1.256Z' : 'M-1.256,0H1.256'"},
                  "fill": {"signal": "datum.value === 'O3 observing scenario (60-85 Mpc)' ? '#c3dfc6' : 'transparent'"},
                  "stroke": {"signal": "datum.value === 'O3 observing scenario (60-85 Mpc)' ? '#c3dfc6' : datum.value === 'O3a, BNS range = 50 Mpc' ? '#0000ff' : datum.value === 'O3b, BNS range = 60 Mpc' ? '#ff0000' : '#000000'"},
                  "strokeWidth": {"value": 2.5},
                  "opacity": {"value": 1}
                }
              }
            }
          }
        }
      }
    },
    {
      "data": {"name": "oct"},
      "mark": {"type": "line", "strokeWidth": 3, "strokeJoin": "bevel", "clip": true},
      "encoding": {
        "x": {"field": "f", "type": "quantitative", "axis": null},
        "y": {"field": "h", "type": "quantitative", "axis": null},
        "color": {"datum": "October 26ᵗʰ, 2018, BNS range = 26 Mpc", "type": "nominal"}
      }
    },
    {
      "data": {"name": "o3a"},
      "mark": {"type": "line", "strokeWidth": 2.9, "strokeJoin": "bevel", "clip": true},
      "encoding": {
        "x": {"field": "f", "type": "quantitative", "axis": null},
        "y": {"field": "h", "type": "quantitative", "axis": null},
        "color": {"datum": "O3a, BNS range = 50 Mpc", "type": "nominal"}
      }
    },
    {
      "data": {"name": "o3b"},
      "mark": {"type": "line", "strokeWidth": 2.9, "strokeJoin": "bevel", "clip": true},
      "encoding": {
        "x": {"field": "f", "type": "quantitative", "axis": null},
        "y": {"field": "h", "type": "quantitative", "axis": null},
        "color": {"datum": "O3b, BNS range = 60 Mpc", "type": "nominal"}
      }
    },
    {
      "data": {"name": "band"},
      "mark": {"type": "line", "opacity": 0},
      "encoding": {
        "x": {
          "field": "f",
          "type": "quantitative",
          "axis": {
            "orient": "top",
            "title": null,
            "labels": false,
            "grid": false,
            "values": [10, 20, 30, 40, 50, 60, 70, 80, 90, 100, 200, 300, 400, 500, 600, 700, 800, 900, 1000, 2000, 3000, 4000, 5000, 6000, 7000, 8000, 9000, 10000],
            "tickSize": {"condition": {"test": "abs(log(datum.value)/LN10 - round(log(datum.value)/LN10)) < 0.001", "value": -17}, "value": -9}
          }
        },
        "y": {
          "field": "hi",
          "type": "quantitative",
          "axis": {
            "orient": "right",
            "title": null,
            "labels": false,
            "grid": false,
            "values": [6e-24, 7e-24, 8e-24, 9e-24, 1e-23, 2e-23, 3e-23, 4e-23, 5e-23, 6e-23, 7e-23, 8e-23, 9e-23, 1e-22, 2e-22, 3e-22, 4e-22, 5e-22, 6e-22, 7e-22, 8e-22, 9e-22, 1e-21, 2e-21, 3e-21, 4e-21, 5e-21, 6e-21, 7e-21, 8e-21, 9e-21, 1e-20, 2e-20, 3e-20, 4e-20, 5e-20, 6e-20, 7e-20, 8e-20, 9e-20, 1e-19, 2e-19, 3e-19, 4e-19, 5e-19, 6e-19, 7e-19, 8e-19, 9e-19, 1e-18],
            "tickSize": {"condition": {"test": "abs(log(datum.value)/LN10 - round(log(datum.value)/LN10)) < 0.001", "value": -17}, "value": -9}
          }
        }
      }
    },
    {
      "data": {"name": "ylab"},
      "mark": {"type": "text", "text": "10", "align": "right", "baseline": "alphabetic", "dx": -63, "dy": 22, "fontSize": 44, "font": "Liberation Sans", "color": "#262626"},
      "encoding": {
        "x": {"datum": 10, "type": "quantitative", "axis": null},
        "y": {"field": "v", "type": "quantitative", "axis": null}
      }
    },
    {
      "data": {"name": "ylab"},
      "mark": {"type": "text", "align": "left", "baseline": "alphabetic", "dx": -62, "dy": 1, "fontSize": 32, "font": "Liberation Sans", "color": "#262626"},
      "encoding": {
        "x": {"datum": 10, "type": "quantitative", "axis": null},
        "y": {"field": "v", "type": "quantitative", "axis": null},
        "text": {"field": "e"}
      }
    },
    {
      "data": {"name": "xlab"},
      "mark": {"type": "text", "text": "10", "align": "right", "baseline": "alphabetic", "dx": 15, "dy": 67, "fontSize": 44, "font": "Liberation Sans", "color": "#262626"},
      "encoding": {
        "x": {"field": "v", "type": "quantitative", "axis": null},
        "y": {"datum": 5e-24, "type": "quantitative", "axis": null}
      }
    },
    {
      "data": {"name": "xlab"},
      "mark": {"type": "text", "align": "left", "baseline": "alphabetic", "dx": 15, "dy": 45, "fontSize": 32, "font": "Liberation Sans", "color": "#262626"},
      "encoding": {
        "x": {"field": "v", "type": "quantitative", "axis": null},
        "y": {"datum": 5e-24, "type": "quantitative", "axis": null},
        "text": {"field": "e"}
      }
    }
  ]
}
